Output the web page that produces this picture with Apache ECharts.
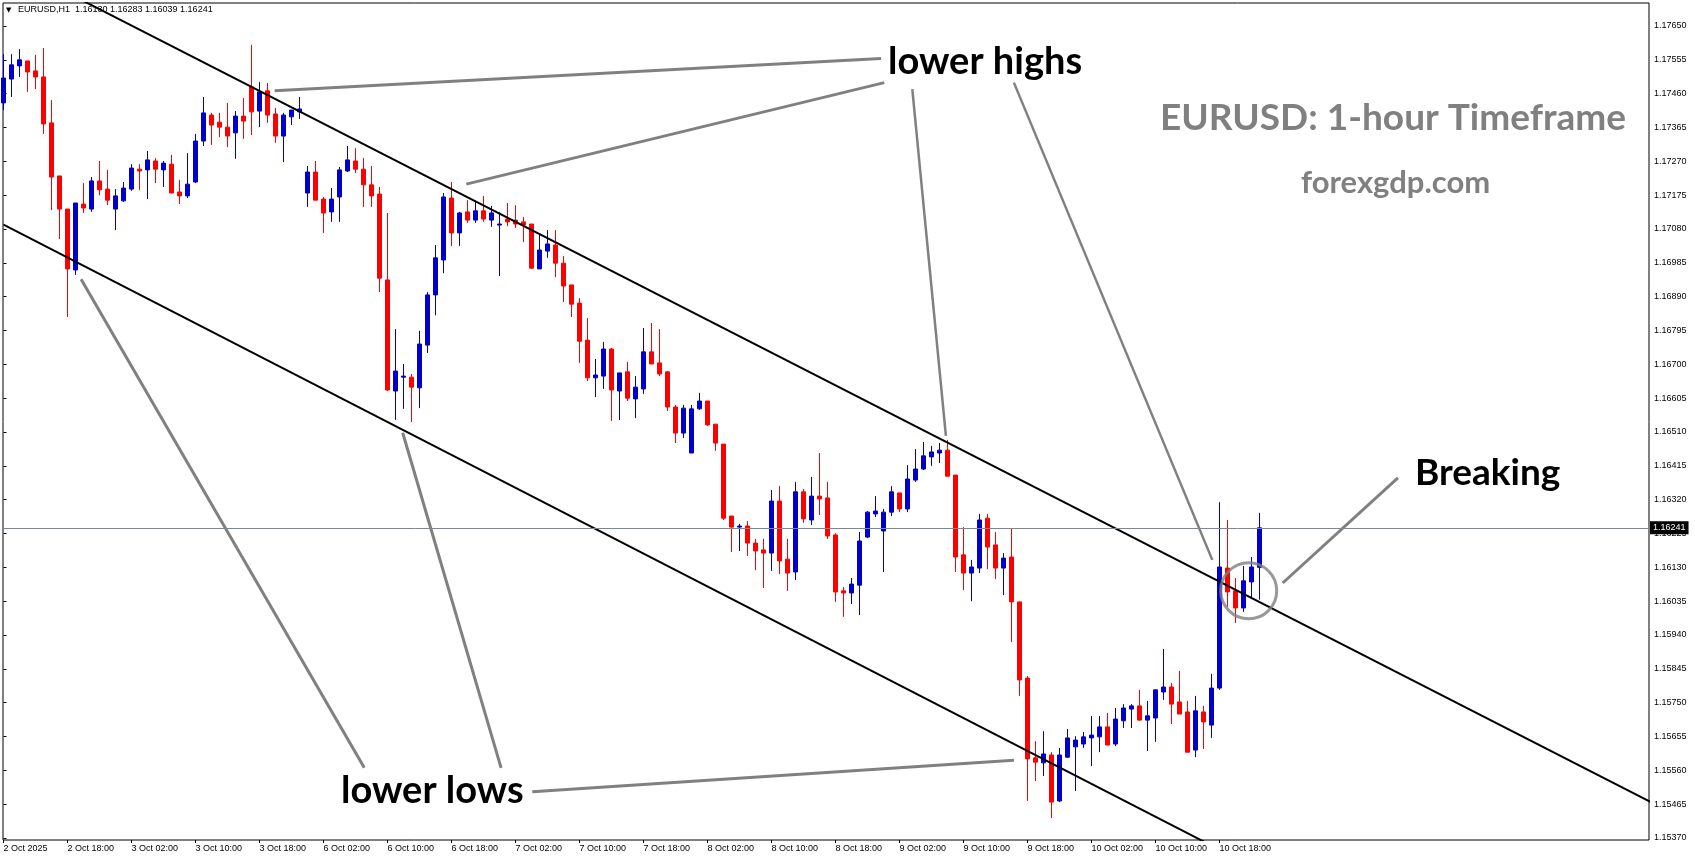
<!DOCTYPE html>
<html>
<head>
<meta charset="utf-8">
<title>EURUSD H1</title>
<script src="https://cdn.jsdelivr.net/npm/echarts@6.0.0/dist/echarts.min.js"></script>
<style>
html,body{margin:0;padding:0;background:#fff;}
#chart{width:1695px;height:861px;}
</style>
</head>
<body>
<div id="chart"></div>
<script>
//x axis labels, one per 8 bars
var timeLabels = ['2 Oct 2025','2 Oct 18:00','3 Oct 02:00','3 Oct 10:00','3 Oct 18:00','6 Oct 02:00','6 Oct 10:00','6 Oct 18:00','7 Oct 02:00','7 Oct 10:00','7 Oct 18:00','8 Oct 02:00','8 Oct 10:00','8 Oct 18:00','9 Oct 02:00','9 Oct 10:00','9 Oct 18:00','10 Oct 02:00','10 Oct 10:00','10 Oct 18:00'];
var yTicks = [1.15370,1.15465,1.15560,1.15655,1.15750,1.15845,1.15940,1.16035,1.16130,1.16225,1.16320,1.16415,1.16510,1.16605,1.16700,1.16795,1.16890,1.16985,1.17080,1.17175,1.17270,1.17365,1.17460,1.17555,1.17650];

//H1 bars: open, close, low, high
var oct2 = [
	[1.17434,1.17504,1.17414,1.17571],[1.17501,1.17541,1.17451,1.17571],[1.17538,1.17555,1.17507,1.17585],[1.17552,1.17521,1.17465,1.17552],
	[1.17524,1.17507,1.17473,1.17569],[1.17507,1.17375,1.17347,1.17588],[1.17378,1.17226,1.17133,1.17442],[1.17229,1.17136,1.17052,1.17229],
	[1.17136,1.16968,1.16833,1.17136],[1.16965,1.17153,1.16951,1.17153],[1.17150,1.17139,1.17125,1.17209],[1.17136,1.17215,1.17128,1.17226],
	[1.17215,1.17190,1.17175,1.17271],[1.17192,1.17161,1.17147,1.17246]
];
var oct3 = [
	[1.17136,1.17173,1.17077,1.17192],[1.17159,1.17195,1.17156,1.17212],[1.17192,1.17251,1.17187,1.17262],[1.17248,1.17243,1.17190,1.17262],
	[1.17246,1.17274,1.17164,1.17299],[1.17271,1.17248,1.17209,1.17279],[1.17246,1.17265,1.17198,1.17271],[1.17262,1.17181,1.17181,1.17288],
	[1.17184,1.17173,1.17150,1.17218],[1.17173,1.17206,1.17167,1.17293],[1.17212,1.17327,1.17209,1.17347],[1.17327,1.17406,1.17313,1.17451],
	[1.17400,1.17372,1.17316,1.17406],[1.17380,1.17366,1.17338,1.17406],[1.17366,1.17341,1.17310,1.17434],[1.17350,1.17397,1.17277,1.17411],
	[1.17397,1.17383,1.17333,1.17448],[1.17479,1.17409,1.17344,1.17597],[1.17411,1.17465,1.17366,1.17493],[1.17468,1.17400,1.17378,1.17490],
	[1.17403,1.17341,1.17322,1.17420],[1.17341,1.17400,1.17268,1.17406],[1.17395,1.17414,1.17372,1.17414],[1.17409,1.17417,1.17389,1.17451]
];
var oct6 = [
	[1.17181,1.17240,1.17142,1.17257],[1.17240,1.17161,1.17161,1.17271],[1.17164,1.17125,1.17069,1.17170],[1.17128,1.17164,1.17100,1.17195],
	[1.17170,1.17246,1.17100,1.17254],[1.17243,1.17274,1.17240,1.17313],[1.17271,1.17248,1.17237,1.17307],[1.17248,1.17204,1.17142,1.17279],
	[1.17204,1.17173,1.17142,1.17257],[1.17178,1.16942,1.16903,1.17198],[1.16937,1.16628,1.16625,1.17125],[1.16625,1.16681,1.16544,1.16799],
	[1.16664,1.16667,1.16575,1.16701],[1.16664,1.16636,1.16538,1.16673],[1.16634,1.16757,1.16577,1.16794],[1.16754,1.16895,1.16732,1.16903],
	[1.16895,1.16999,1.16838,1.17035],[1.16993,1.17170,1.16956,1.17181],[1.17167,1.17069,1.17032,1.17212],[1.17069,1.17125,1.17032,1.17128],
	[1.17128,1.17105,1.17097,1.17161],[1.17105,1.17131,1.17097,1.17156],[1.17131,1.17108,1.17100,1.17173],[1.17105,1.17125,1.17086,1.17145]
];
var oct7 = [
	[1.17091,1.17094,1.16948,1.17128],[1.17108,1.17100,1.17088,1.17153],[1.17105,1.17094,1.17083,1.17147],[1.17100,1.17091,1.17043,1.17114],
	[1.17094,1.16970,1.16968,1.17094],[1.16968,1.17021,1.16968,1.17066],[1.17018,1.17038,1.16999,1.17077],[1.17035,1.16984,1.16945,1.17077],
	[1.16984,1.16920,1.16875,1.17004],[1.16923,1.16869,1.16833,1.16923],[1.16872,1.16765,1.16704,1.16886],[1.16768,1.16662,1.16653,1.16830],
	[1.16662,1.16670,1.16608,1.16715],[1.16667,1.16743,1.16631,1.16763],[1.16743,1.16628,1.16541,1.16746],[1.16625,1.16676,1.16544,1.16676],
	[1.16679,1.16605,1.16597,1.16707],[1.16603,1.16636,1.16549,1.16667],[1.16631,1.16735,1.16617,1.16802],[1.16735,1.16701,1.16701,1.16816],
	[1.16704,1.16673,1.16667,1.16799],[1.16679,1.16580,1.16569,1.16681],[1.16580,1.16507,1.16479,1.16586],[1.16507,1.16577,1.16493,1.16586]
];
var oct8 = [
	[1.16451,1.16575,1.16451,1.16586],[1.16575,1.16597,1.16572,1.16620],[1.16597,1.16530,1.16527,1.16597],[1.16532,1.16479,1.16457,1.16532],
	[1.16476,1.16268,1.16263,1.16476],[1.16274,1.16243,1.16173,1.16274],[1.16243,1.16246,1.16176,1.16252],[1.16246,1.16198,1.16162,1.16260],
	[1.16198,1.16176,1.16122,1.16210],[1.16179,1.16170,1.16072,1.16210],[1.16170,1.16316,1.16120,1.16347],[1.16316,1.16148,1.16111,1.16358],
	[1.16153,1.16114,1.16064,1.16210],[1.16117,1.16342,1.16094,1.16370],[1.16342,1.16266,1.16255,1.16350],[1.16263,1.16330,1.16249,1.16384],
	[1.16330,1.16322,1.16277,1.16451],[1.16325,1.16218,1.16210,1.16370],[1.16221,1.16061,1.16033,1.16226],[1.16064,1.16058,1.15991,1.16075],
	[1.16058,1.16083,1.16027,1.16100],[1.16080,1.16204,1.15996,1.16229],[1.16215,1.16285,1.16212,1.16288],[1.16280,1.16288,1.16271,1.16330]
];
var oct9 = [
	[1.16232,1.16285,1.16117,1.16294],[1.16285,1.16342,1.16274,1.16358],[1.16339,1.16294,1.16285,1.16339],[1.16294,1.16378,1.16285,1.16417],
	[1.16375,1.16406,1.16370,1.16462],[1.16406,1.16443,1.16403,1.16482],[1.16440,1.16454,1.16415,1.16471],[1.16451,1.16459,1.16423,1.16479],
	[1.16459,1.16386,1.16386,1.16488],[1.16389,1.16159,1.16117,1.16389],[1.16165,1.16114,1.16066,1.16243],[1.16114,1.16131,1.16035,1.16151],
	[1.16128,1.16263,1.16114,1.16280],[1.16268,1.16187,1.16125,1.16280],[1.16193,1.16128,1.16097,1.16229],[1.16128,1.16156,1.16052,1.16170],
	[1.16159,1.16033,1.15920,1.16238],[1.16033,1.15814,1.15769,1.16033],[1.15819,1.15592,1.15474,1.15825],[1.15595,1.15583,1.15530,1.15642],
	[1.15581,1.15606,1.15544,1.15670],[1.15603,1.15471,1.15426,1.15611],[1.15474,1.15603,1.15471,1.15623],[1.15597,1.15651,1.15595,1.15676]
];
var oct10 = [
	[1.15626,1.15645,1.15502,1.15656],[1.15634,1.15654,1.15623,1.15668],[1.15651,1.15659,1.15572,1.15713],[1.15654,1.15682,1.15611,1.15713],
	[1.15682,1.15631,1.15631,1.15721],[1.15634,1.15704,1.15628,1.15735],[1.15699,1.15735,1.15679,1.15746],[1.15732,1.15741,1.15679,1.15746],
	[1.15741,1.15701,1.15699,1.15786],[1.15701,1.15713,1.15614,1.15755],[1.15707,1.15786,1.15640,1.15786],[1.15780,1.15794,1.15758,1.15901],
	[1.15794,1.15746,1.15690,1.15805],[1.15752,1.15718,1.15718,1.15839],[1.15724,1.15611,1.15611,1.15755],[1.15617,1.15727,1.15597,1.15769],
	[1.15724,1.15696,1.15620,1.15741],[1.15687,1.15791,1.15651,1.15831],[1.15791,1.16131,1.15786,1.16313],[1.16128,1.16061,1.16019,1.16263],
	[1.16064,1.16016,1.15974,1.16100],[1.16016,1.16092,1.16005,1.16134],[1.16089,1.16131,1.16041,1.16159],[1.16130,1.16241,1.16039,1.16283]
];
var lastPrice = 1.16241;

//channel lines, [bar, price]
var upperChannel = [[0, 1.17835], [206, 1.15470]];
var lowerChannel = [[0, 1.17092], [206, 1.14714]];
//grey pointer lines
var pointerLines = [
	[[33.9, 1.17468], [109.7, 1.17559]],
	[[57.85, 1.17206], [110.1, 1.17491]],
	[[113.6, 1.17473], [117.8, 1.16499]],
	[[126.3, 1.17491], [151.1, 1.16151]],
	[[9.7, 1.16939], [45.1, 1.15567]],
	[[49.9, 1.16508], [62.2, 1.15567]],
	[[66.1, 1.15500], [126.3, 1.15588]],
	[[159.9, 1.16086], [174.3, 1.16381]]
];
var breakCircle = [155.65, 1.16064];

var bars = [].concat(oct2, oct3, oct6, oct7, oct8, oct9, oct10);
var candleData = bars.map(function(b, i){
	return [i, b[0], b[1], b[2], b[3]];
});
var labelPos = timeLabels.map(function(t, i){ return i * 8; });

var axisFont = {fontSize: 9, fontFamily: 'Liberation Sans', color: '#000'};

var series = [{
	//current price line
	type: 'line',
	data: [[0, lastPrice]],
	symbol: 'none',
	z: 1,
	markLine: {
		silent: true,
		symbol: 'none',
		precision: 5,
		animation: false,
		lineStyle: {color: '#778899', width: 1, type: 'solid'},
		label: {
			position: 'end', distance: 1,
			formatter: lastPrice.toFixed(5),
			backgroundColor: '#000', color: '#fff',
			fontSize: 9, fontFamily: 'Liberation Sans',
			padding: [2, 3, 2, 3]
		},
		data: [{yAxis: lastPrice}]
	}
}, {
	type: 'candlestick',
	data: candleData,
	barWidth: 4,
	z: 2,
	itemStyle: {
		color: '#0000cd', color0: '#ff0000',
		borderColor: '#0000cd', borderColor0: '#ff0000',
		borderWidth: 1
	}
}];
[upperChannel, lowerChannel].forEach(function(d){
	series.push({
		type: 'line', data: d, symbol: 'none', z: 3,
		lineStyle: {color: '#000', width: 2}
	});
});
pointerLines.forEach(function(d, i){
	series.push({
		type: 'line', data: d, symbol: 'none', z: 4,
		lineStyle: {color: '#808080', width: (i == 2 || i == 3) ? 2.5 : 3}
	});
});
series.push({
	type: 'scatter', data: [breakCircle], symbol: 'circle', symbolSize: 56, z: 4,
	itemStyle: {color: 'rgba(0,0,0,0)', borderColor: '#808080', borderWidth: 3}
});

function txt(x, y, s, font, fill){
	return {type: 'text', x: x, y: y, z: 100, silent: true,
		style: {text: s, font: font, fill: fill, align: 'left', verticalAlign: 'middle'}};
}

var chart = echarts.init(document.getElementById('chart'), null, {renderer: 'canvas'});
chart.setOption({
	animation: false,
	backgroundColor: '#fff',
	grid: {left: 3, right: 46, top: 3, bottom: 21, show: true, borderColor: '#000', borderWidth: 1, backgroundColor: '#fff'},
	xAxis: {
		type: 'value', min: -0.0625, max: 205.6875,
		axisLine: {show: false},
		splitLine: {show: false},
		axisTick: {customValues: labelPos, length: 3, lineStyle: {color: '#000'}},
		axisLabel: Object.assign({
			customValues: labelPos, align: 'left', margin: 4,
			formatter: function(v){ return timeLabels[Math.round(v / 8)]; }
		}, axisFont)
	},
	yAxis: {
		type: 'value', position: 'right', min: 1.153644, max: 1.177146,
		axisLine: {show: false},
		splitLine: {show: false},
		axisTick: {customValues: yTicks, length: 3, lineStyle: {color: '#000'}},
		axisLabel: Object.assign({
			customValues: yTicks, margin: 5,
			formatter: function(v){ return v.toFixed(5); }
		}, axisFont)
	},
	series: series,
	graphic: [
		txt(6, 10, '\u25BC', '7px DejaVu Sans', '#000'),
		txt(18, 10, 'EURUSD,H1  1.16130 1.16283 1.16039 1.16241', '9px Liberation Sans', '#000'),
		txt(888, 62, 'lower highs', 'bold 38px Lato', '#000'),
		txt(341, 791, 'lower lows', 'bold 38px Lato', '#000'),
		txt(1415, 473, 'Breaking', 'bold 37px Lato', '#000'),
		txt(1160, 118, 'EURUSD: 1-hour Timeframe', 'bold 37px Lato', '#808080'),
		txt(1301, 183, 'forexgdp.com', 'bold 31px Lato', '#808080')
	]
});
</script>
</body>
</html>
